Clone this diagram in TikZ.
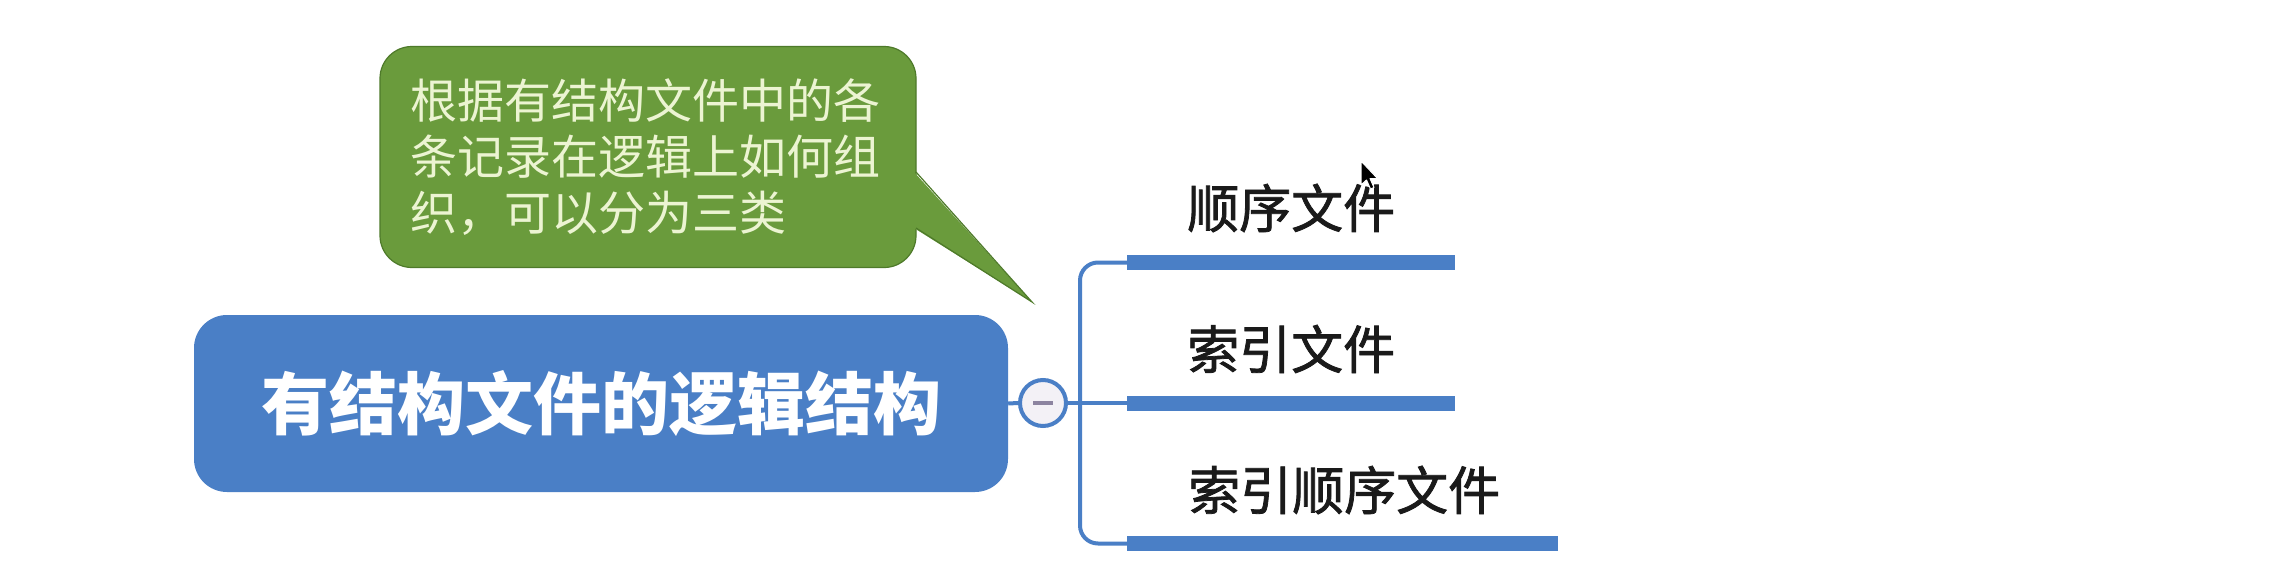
\documentclass[tikz,border=0pt]{standalone}
\usepackage{fontspec}
\newfontfamily\cjk{Noto Sans CJK SC}
\newfontfamily\cjkleaf[FakeBold=1.5]{Noto Sans CJK SC}
\definecolor{mapblue}{HTML}{4A7FC6}
\definecolor{notegreen}{HTML}{6A9B3C}
\definecolor{notedark}{HTML}{4E7A2A}
\definecolor{notetext}{HTML}{ECF4D2}
\definecolor{togglefill}{HTML}{F3F1F6}
\definecolor{minusgray}{HTML}{8C84A0}
\definecolor{leafblack}{HTML}{1A1A1A}
\tikzset{
  mainbox/.style={fill=mapblue, rounded corners=33pt, minimum width=814pt, minimum height=177pt,
    inner sep=0pt, text=white, font=\cjk\bfseries\fontsize{68}{68}\selectfont},
  notebox/.style={fill=notegreen, draw=notedark, line width=1.2pt, rounded corners=32pt,
    minimum width=536pt, minimum height=221pt, text width=476pt, inner xsep=30pt, inner ysep=0pt,
    align=left, text=notetext, font=\cjk\fontsize{47}{56}\selectfont},
  togglenode/.style={circle, draw=mapblue, line width=4pt, fill=togglefill, minimum size=46pt, inner sep=0pt},
  bar/.style={fill=mapblue, minimum height=15pt, inner sep=0pt, anchor=west},
  leaf/.style={anchor=west, inner sep=0pt, text=leafblack, font=\cjkleaf\fontsize{52}{52}\selectfont},
  branch/.style={draw=mapblue, line width=4pt},
}
\begin{document}
\begin{tikzpicture}[x=1pt,y=-1pt]
\useasboundingbox[fill=white] (0,0) rectangle (2292,570);

% note bubble
\node[notebox] (note) at (648,157) {根据有结构文件中的各\\条记录在逻辑上如何组\\织，可以分为三类};
\coordinate (tip) at (1032,302);
\fill[notegreen] (914,172) -- (tip) -- (914,228) -- cycle;
\draw[notedark, line width=1.2pt] (916,172) -- (tip) -- (916,228);

% main topic
\node[mainbox] (main) at (601,403.5) {有结构文件的逻辑结构};

% bars (branch underlines)
\node[bar, minimum width=328pt] (b1) at (1127,262.5) {};
\node[bar, minimum width=328pt] (b2) at (1127,403) {};
\node[bar, minimum width=431pt] (b3) at (1127,543.5) {};

% collapse toggle
\node[togglenode] (tog) at (1043,403) {};
\draw[minusgray, line width=3.5pt] ([xshift=-10pt]tog.center) -- ([xshift=10pt]tog.center);

% connectors
\draw[branch] (main.east) -- (tog.west);
\draw[branch] (tog.east) -- (b2.west);
\draw[branch, rounded corners=18pt] (b1.west) -- ++(-47,0) |- (b3.west);

% leaf labels
\node[leaf] (l1) at (1187,208) {顺序文件};
\node[leaf] (l2) at (1187,349) {索引文件};
\node[leaf] (l3) at (1188,490) {索引顺序文件};

% mouse cursor
\fill[black, draw=white, line width=1pt, line join=round] (1361,161) -- ++(0,24) -- ++(5.5,-5) -- ++(4,9) -- ++(3.5,-1.5) -- ++(-4,-9) -- ++(7.5,0) -- cycle;
\end{tikzpicture}
\end{document}
